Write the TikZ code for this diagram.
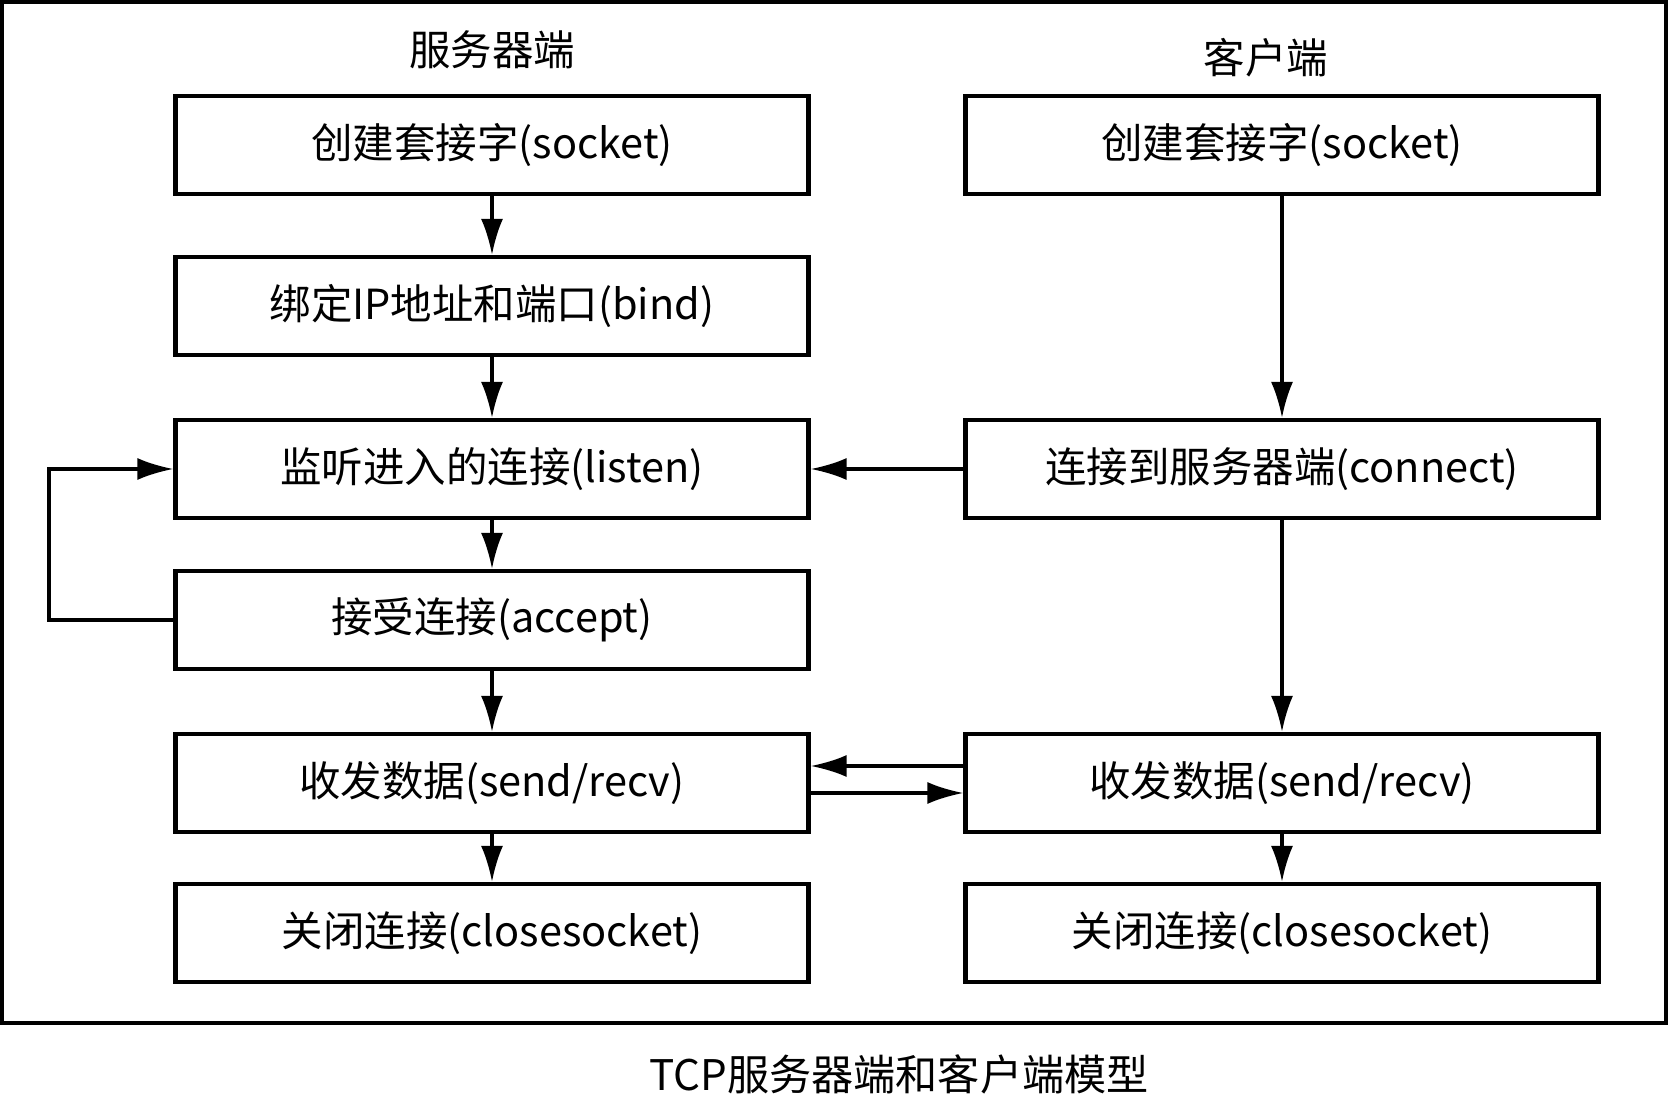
\documentclass[tikz,border=0pt]{standalone}
\usepackage{fontspec}
\setmainfont{Noto Sans CJK SC}
\usepackage{xcolor}
\usepackage{tikz}
\usetikzlibrary{arrows.meta,positioning}
\definecolor{ink}{HTML}{000000}
\tikzset{
  outerFrame/.style={draw=ink, line width=1.2pt},
  stepBox/.style={draw=ink, line width=1.2pt, minimum width=6.33cm, minimum height=0.98cm, inner sep=0pt, text=ink, font=\fontsize{11.8}{13}\selectfont},
  sideTitle/.style={text=ink, font=\fontsize{11.8}{13}\selectfont},
  capText/.style={text=ink, font=\fontsize{12}{14}\selectfont},
  flow/.style={-{Latex[length=3.6mm,width=2.2mm]}, draw=ink, line width=0.95pt}
}

\begin{document}
\begin{tikzpicture}
  \useasboundingbox (0,0) rectangle (16.68,-10.95);
  \draw[outerFrame] (0.02,-0.02) rectangle (16.66,-10.23);

  % server side
  \node[sideTitle] (srvTitle) at (4.92,-0.50) {服务器端};
  \node[stepBox] (srvSocket) at (4.92,-1.45) {创建套接字(socket)};
  \node[stepBox] (srvBind)   at (4.92,-3.06) {绑定IP地址和端口(bind)};
  \node[stepBox] (srvListen) at (4.92,-4.69) {监听进入的连接(listen)};
  \node[stepBox] (srvAccept) at (4.92,-6.20) {接受连接(accept)};
  \node[stepBox] (srvData)   at (4.92,-7.83) {收发数据(send/recv)};
  \node[stepBox] (srvClose)  at (4.92,-9.33) {关闭连接(closesocket)};

  % client side
  \node[sideTitle] (cliTitle) at (12.66,-0.58) {客户端};
  \node[stepBox] (cliSocket)  at (12.82,-1.45) {创建套接字(socket)};
  \node[stepBox] (cliConnect) at (12.82,-4.69) {连接到服务器端(connect)};
  \node[stepBox] (cliData)    at (12.82,-7.83) {收发数据(send/recv)};
  \node[stepBox] (cliClose)   at (12.82,-9.33) {关闭连接(closesocket)};

  \node[capText] (caption) at (8.99,-10.74) {TCP服务器端和客户端模型};

  \draw[flow] (srvSocket) -- (srvBind);
  \draw[flow] (srvBind) -- (srvListen);
  \draw[flow] (srvListen) -- (srvAccept);
  \draw[flow] (srvAccept) -- (srvData);
  \draw[flow] (srvData) -- (srvClose);
  \draw[flow] (srvAccept.west) -- ++(-1.245,0) |- (srvListen.west);

  \draw[flow] (cliSocket) -- (cliConnect);
  \draw[flow] (cliConnect) -- (cliData);
  \draw[flow] (cliData) -- (cliClose);

  \draw[flow] (cliConnect.west) -- (srvListen.east);
  \draw[flow] ([yshift=1.7mm]cliData.west) -- ([yshift=1.7mm]srvData.east);
  \draw[flow] ([yshift=-1mm]srvData.east) -- ([yshift=-1mm]cliData.west);
\end{tikzpicture}
\end{document}
